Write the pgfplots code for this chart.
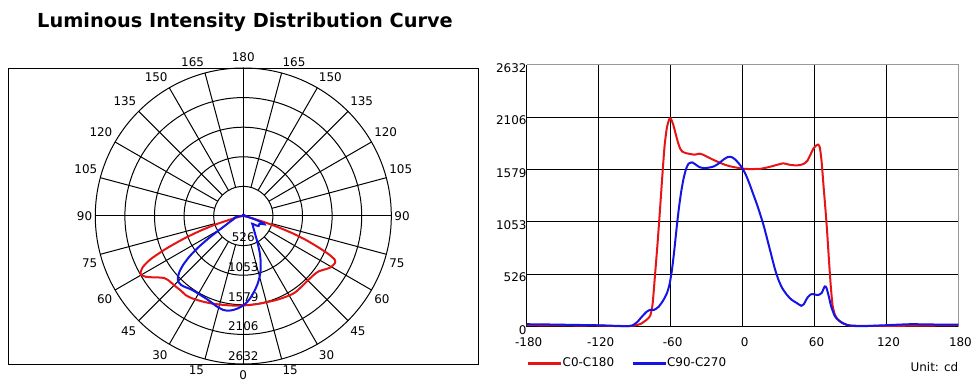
\documentclass[border=0pt]{standalone}
\usepackage{fontspec}
\setmainfont{DejaVu Sans}
\usepackage{pgfplots}
\pgfplotsset{compat=1.18}
\usepackage{pgfplotstable}

\pgfplotstableread{
a r
-180 15
-160 14
-140 12
-120 12
-110 8
-100 5
-95 6
-90 12
-85 28
-80 70
-77 110
-75 230
-73 520
-71 820
-69 1150
-67 1500
-65 1820
-63 2010
-61 2090
-60 2098
-58 2040
-56 1950
-54 1860
-52 1790
-50 1760
-47 1745
-44 1738
-40 1730
-36 1740
-33 1730
-30 1712
-25 1682
-20 1655
-15 1630
-10 1612
-5 1600
0 1590
5 1586
10 1586
15 1588
20 1600
25 1615
30 1632
34 1643
38 1632
42 1624
47 1624
51 1638
54 1668
57 1740
59 1790
61 1818
63 1832
64.5 1800
66 1650
67.5 1420
69 1200
70.5 960
72 680
73.5 420
75 220
77 120
79 80
82 45
86 22
90 12
100 8
120 8
140 10
160 12
180 15
}\redtab

\pgfplotstableread{
a r
-180 25
-160 22
-140 18
-120 14
-105 8
-95 6
-92 12
-88 45
-84 100
-80 150
-77 170
-74 168
-70 200
-66 268
-63 340
-61 420
-59 560
-57 760
-55 990
-53 1200
-51 1370
-49 1500
-47 1590
-45 1640
-42 1652
-39 1630
-36 1605
-32 1595
-28 1600
-24 1612
-20 1640
-16 1680
-12 1708
-9 1705
-6 1680
-3 1640
0 1590
3 1520
6 1430
9 1330
12 1230
15 1120
18 1000
21 860
24 720
27 580
30 470
33 390
37 320
41 270
45 240
49 210
51 225
54 290
57 326
60 325
63 318
66 340
68.5 405
70 390
72 300
74 200
77 105
80 65
84 34
88 15
92 8
100 5
110 10
120 15
140 25
160 22
180 20
}\bluetab

\definecolor{cred}{RGB}{230,20,20}
\definecolor{cblue}{RGB}{20,20,230}

\begin{document}
\begin{tikzpicture}[lbl/.style={inner sep=0pt, font=\fontsize{12}{14}\selectfont}]
\path[use as bounding box] (0,0) rectangle (976bp,388bp);
\node[anchor=west, inner sep=0pt, font=\fontsize{19.4}{22}\selectfont\bfseries] at (37bp,366bp) {Luminous Intensity Distribution Curve};

% ---------------- polar diagram ----------------
\begin{axis}[
  at={(8.3bp,24bp)}, anchor=south west,
  width=470bp, height=296bp, scale only axis,
  xmin=-4179, xmax=4179, ymin=-2632, ymax=2632,
  xtick=\empty, ytick=\empty,
  axis line style={line width=0.9bp},
  clip=false,
]
\pgfplotsinvokeforeach{526.4,1052.8,1579.2,2105.6,2632}{
  \draw[line width=1bp] (axis cs:0,0) circle[radius=#1];
}
\pgfplotsinvokeforeach{15,30,45,60,75,105,120,135,150,165}{
  \draw[line width=1bp] (axis cs:{526.4*sin(#1)},{-526.4*cos(#1)}) -- (axis cs:{2632*sin(#1)},{-2632*cos(#1)});
  \draw[line width=1bp] (axis cs:{-526.4*sin(#1)},{-526.4*cos(#1)}) -- (axis cs:{-2632*sin(#1)},{-2632*cos(#1)});
}
\pgfplotsinvokeforeach{15,30,45,60,75}{
  \node[lbl, anchor=west] at (axis cs:{2685*sin(#1)},{-2685*cos(#1)-142}) {#1};
  \node[lbl, anchor=east] at (axis cs:{-2685*sin(#1)},{-2685*cos(#1)-142}) {#1};
}
\pgfplotsinvokeforeach{105,120,135,150,165}{
  \node[lbl, anchor=west] at (axis cs:{2685*sin(#1)},{-2685*cos(#1)+142}) {#1};
  \node[lbl, anchor=east] at (axis cs:{-2685*sin(#1)},{-2685*cos(#1)+142}) {#1};
}
\draw[line width=1bp] (axis cs:-2632,0) -- (axis cs:2632,0);
\draw[line width=1bp] (axis cs:0,-2632) -- (axis cs:0,2632);
\node[lbl] at (axis cs:0,-2827) {0};
\node[lbl] at (axis cs:0,2827) {180};
\node[lbl, anchor=east] at (axis cs:-2685,0) {90};
\node[lbl, anchor=west] at (axis cs:2685,0) {90};
\node[lbl] at (axis cs:0,-384) {526};
\node[lbl] at (axis cs:0,-911) {1053};
\node[lbl] at (axis cs:0,-1437) {1579};
\node[lbl] at (axis cs:0,-1964) {2106};
\node[lbl] at (axis cs:0,-2490) {2632};
\addplot[cred, line width=2bp, smooth, tension=0.4] table[x expr={\thisrow{r}*sin(\thisrow{a})}, y expr={-\thisrow{r}*cos(\thisrow{a})}] {\redtab};
\addplot[cblue, line width=2bp, smooth, tension=0.4] table[x expr={\thisrow{r}*sin(\thisrow{a})}, y expr={-\thisrow{r}*cos(\thisrow{a})}] {\bluetab};
\end{axis}

% ---------------- cartesian diagram ----------------
\begin{axis}[
  at={(526.7bp,61.3bp)}, anchor=south west,
  width=431.7bp, height=261.7bp, scale only axis,
  xmin=-180, xmax=180, ymin=0, ymax=2632,
  xtick={-180,-120,-60,0,60,120,180},
  xticklabels={-180,-120,-60,0,60,120,180},
  ytick={0,526,1053,1579,2106,2632},
  yticklabels={0,526,1053,1579,2106,2632},
  grid=major, grid style={black, line width=1bp},
  major tick length=0pt,
  axis line style={draw=none},
  tick label style={font=\fontsize{12}{14}\selectfont, inner sep=0pt},
  yticklabel style={anchor=east, yshift=-3bp},
  xticklabel style={anchor=north, yshift=-11bp, xshift=2bp},
  clip=false,
  legend style={draw=none, fill=none, at={(rel axis cs:0,-0.139)}, anchor=west,
    font=\fontsize{12}{14}\selectfont, inner sep=0pt, outer sep=0pt,
    nodes={inner sep=0pt},
    /tikz/every even column/.append style={column sep=17bp}},
  legend columns=2,
  legend image code/.code={\draw[#1, line width=3bp] (0bp,0bp) -- (33bp,0bp);},
]
\draw[gray!80, line width=1bp] (rel axis cs:0,1) -- (rel axis cs:1,1) -- (rel axis cs:1,0);
\draw[black, line width=1bp] (rel axis cs:0,1) -- (rel axis cs:0,0) -- (rel axis cs:1,0);
\addplot[cred, line width=2bp, smooth, tension=0.4] table[x=a, y=r] {\redtab};
\addplot[cblue, line width=2bp, smooth, tension=0.4] table[x=a, y=r] {\bluetab};
\legend{C0-C180, C90-C270}
\node[anchor=east, inner sep=0pt, font=\fontsize{12}{14}\selectfont] at (rel axis cs:1,-0.155) {Unit: cd};
\end{axis}
\end{tikzpicture}
\end{document}
